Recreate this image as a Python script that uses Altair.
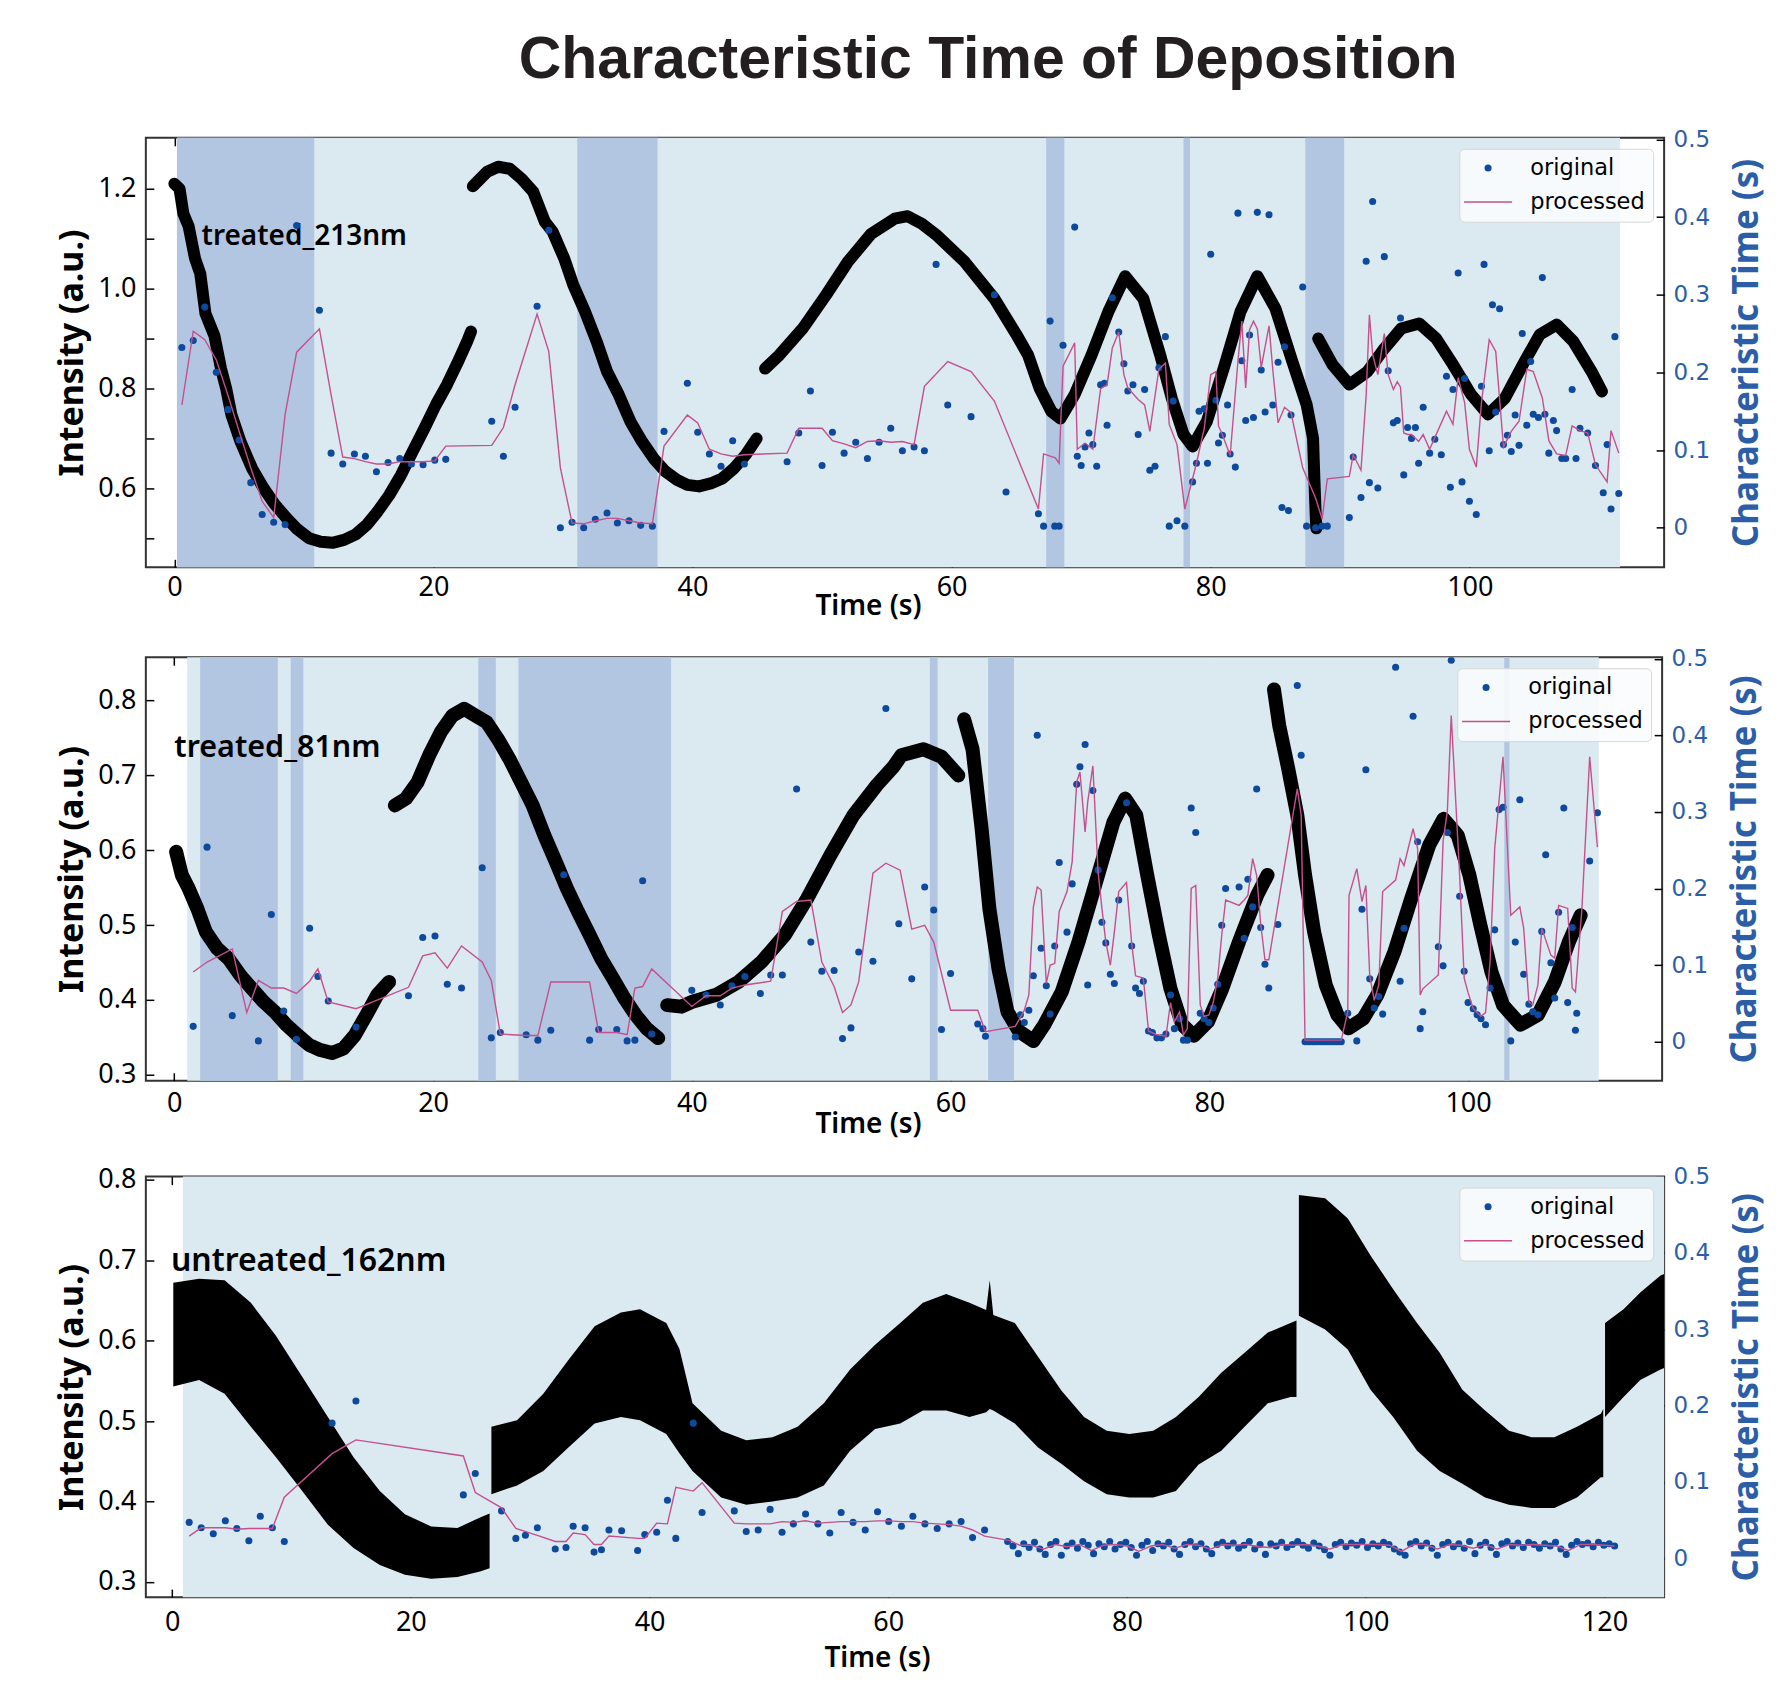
import altair as alt
import pandas as pd

TITLE = "Characteristic Time of Deposition"
SERIES = ["original", "processed"]
X_TICKS_12 = [0, 20, 40, 60, 80, 100]
X_TICKS_3 = [0, 20, 40, 60, 80, 100, 120]
R_TICKS = [0, 0.1, 0.2, 0.3, 0.4, 0.5]

# ---------------- Panel 1: treated_213nm ----------------
P1_NAME = "treated_213nm"
P1_LABEL_AT = (2.1, 1.104)
P1_SPAN = (0.2, 111.6)
P1_BANDS = [(0.2, 10.8), (31.1, 37.3), (67.3, 68.7), (77.9, 78.4), (87.3, 90.3)]
P1_BREAKS = [23.0, 45.3, 88.25]
P1_INTENSITY = [
    (0.0, 1.21), (0.4, 1.20), (0.7, 1.15), (1.1, 1.125), (1.6, 1.06), (2.0, 1.03), (2.4, 0.95),
    (3.1, 0.905), (3.6, 0.84), (4.0, 0.80), (4.4, 0.748), (5.1, 0.694), (6.0, 0.64), (6.9, 0.60),
    (7.75, 0.568), (8.65, 0.541), (9.5, 0.518), (10.4, 0.50), (11.3, 0.493), (12.2, 0.491),
    (13.1, 0.497), (14.0, 0.508), (14.85, 0.527), (15.7, 0.554), (16.6, 0.587), (17.5, 0.627),
    (18.4, 0.674), (19.3, 0.72), (20.2, 0.768), (21.05, 0.808), (21.9, 0.854), (22.6, 0.894),
    (22.9, 0.914),
    (23.04, 1.205), (24.15, 1.234), (25.0, 1.244), (25.9, 1.24), (26.8, 1.22), (27.7, 1.194),
    (28.6, 1.134), (29.2, 1.114), (30.1, 1.06), (30.8, 1.007), (31.7, 0.954), (32.6, 0.894),
    (33.4, 0.834), (34.3, 0.788), (35.2, 0.734), (36.1, 0.694), (37.0, 0.66), (37.9, 0.634),
    (38.8, 0.617), (39.6, 0.607), (40.5, 0.604), (41.4, 0.61), (42.3, 0.62), (43.2, 0.64),
    (44.1, 0.667), (44.95, 0.70),
    (45.6, 0.84), (46.7, 0.867), (48.5, 0.92), (50.3, 0.987), (52.0, 1.054), (53.8, 1.11),
    (55.6, 1.14), (56.6, 1.145), (57.7, 1.13), (58.8, 1.108), (61.0, 1.054), (63.3, 0.98),
    (65.0, 0.908), (65.9, 0.867), (66.8, 0.80), (67.7, 0.754), (68.4, 0.74), (69.5, 0.788),
    (70.8, 0.867), (72.1, 0.954), (73.4, 1.025), (74.8, 0.98), (76.1, 0.867), (77.0, 0.78),
    (77.9, 0.708), (78.6, 0.684), (79.7, 0.734), (81.0, 0.84), (82.3, 0.954), (83.6, 1.025),
    (85.0, 0.96), (86.3, 0.854), (87.4, 0.768), (87.9, 0.70), (88.0, 0.62), (88.1, 0.55),
    (88.15, 0.52),
    (88.3, 0.90), (89.4, 0.848), (90.7, 0.808), (92.1, 0.834), (93.4, 0.88), (94.7, 0.92),
    (96.1, 0.93), (97.4, 0.90), (98.7, 0.848), (100.1, 0.788), (101.4, 0.748), (102.7, 0.78),
    (104.1, 0.848), (105.4, 0.908), (106.7, 0.928), (108.0, 0.894), (109.4, 0.834), (110.2, 0.794),
]
P1_ORIGINAL = [
    (0.58, 0.232), (1.46, 0.241), (2.35, 0.284), (3.24, 0.200), (4.13, 0.152), (5.0, 0.113),
    (5.9, 0.058), (6.78, 0.017), (7.67, 0.007), (8.55, 0.004), (9.44, 0.389), (11.2, 0.280),
    (12.1, 0.096), (13.0, 0.082), (13.9, 0.095), (14.75, 0.092), (15.6, 0.072), (16.5, 0.084),
    (17.4, 0.089), (18.3, 0.082), (19.2, 0.081), (20.1, 0.087), (20.95, 0.088), (24.5, 0.137),
    (25.4, 0.092), (26.3, 0.155), (28.0, 0.285), (28.9, 0.383), (29.8, 0.0), (30.7, 0.007),
    (31.6, 0.0), (32.5, 0.011), (33.4, 0.019), (34.2, 0.006), (35.1, 0.009), (36.0, 0.003),
    (36.9, 0.002), (37.8, 0.124), (39.6, 0.186), (40.4, 0.123), (41.3, 0.095), (42.2, 0.079),
    (43.1, 0.112), (44.0, 0.082), (47.3, 0.085), (48.2, 0.122), (49.1, 0.176), (50.0, 0.080),
    (50.8, 0.123), (51.7, 0.096), (52.6, 0.110), (53.5, 0.089), (54.4, 0.110), (55.3, 0.128),
    (56.2, 0.099), (57.1, 0.104), (57.9, 0.099), (58.8, 0.339), (59.7, 0.158), (61.5, 0.143),
    (63.3, 0.300), (64.2, 0.046), (66.7, 0.018), (67.1, 0.002), (67.6, 0.266), (67.96, 0.002),
    (68.3, 0.002), (68.6, 0.235), (69.5, 0.387), (69.7, 0.092), (70.0, 0.080), (70.3, 0.104),
    (70.6, 0.122), (70.9, 0.107), (71.2, 0.079), (71.5, 0.184), (71.8, 0.186), (72.0, 0.132),
    (72.4, 0.296), (72.9, 0.252), (73.3, 0.211), (73.6, 0.176), (74.0, 0.184), (74.4, 0.120),
    (74.9, 0.178), (75.3, 0.074), (75.7, 0.079), (76.0, 0.206), (76.5, 0.246), (76.8, 0.002),
    (77.1, 0.163), (77.4, 0.009), (78.0, 0.002), (78.6, 0.059), (78.9, 0.083), (79.1, 0.150),
    (79.5, 0.153), (79.75, 0.083), (80.0, 0.352), (80.4, 0.164), (80.6, 0.109), (80.9, 0.119),
    (81.3, 0.158), (81.5, 0.095), (81.9, 0.078), (82.1, 0.405), (82.4, 0.215), (82.7, 0.138),
    (83.0, 0.248), (83.3, 0.142), (83.6, 0.406), (83.9, 0.203), (84.2, 0.149), (84.5, 0.403),
    (84.8, 0.158), (85.2, 0.213), (85.5, 0.026), (85.7, 0.233), (86.0, 0.022), (86.2, 0.145),
    (87.1, 0.310), (87.4, 0.002), (88.1, 0.0), (88.6, 0.002), (89.0, 0.002), (90.7, 0.013),
    (91.0, 0.091), (91.6, 0.039), (92.0, 0.343), (92.25, 0.058), (92.5, 0.420), (92.9, 0.051),
    (93.4, 0.349), (93.7, 0.202), (94.1, 0.135), (94.4, 0.138), (94.65, 0.270), (94.9, 0.068),
    (95.2, 0.129), (95.5, 0.115), (95.8, 0.129), (96.05, 0.083), (96.4, 0.155), (96.9, 0.096),
    (97.3, 0.114), (97.8, 0.094), (98.2, 0.195), (98.5, 0.052), (98.7, 0.178), (99.1, 0.328),
    (99.4, 0.059), (99.6, 0.192), (99.97, 0.034), (100.5, 0.017), (100.9, 0.182), (101.1, 0.339),
    (101.5, 0.099), (101.75, 0.287), (102.0, 0.149), (102.3, 0.282), (102.6, 0.107), (102.9, 0.119),
    (103.2, 0.098), (103.5, 0.145), (103.8, 0.106), (104.05, 0.250), (104.4, 0.132), (104.7, 0.214),
    (104.9, 0.146), (105.3, 0.142), (105.6, 0.322), (105.8, 0.146), (106.1, 0.096), (106.45, 0.138),
    (106.7, 0.125), (107.1, 0.089), (107.4, 0.089), (107.9, 0.178), (108.2, 0.089), (108.5, 0.128),
    (109.1, 0.122), (109.7, 0.080), (110.3, 0.045), (110.6, 0.107), (110.9, 0.024), (111.2, 0.246),
    (111.5, 0.044),
]
P1_PROCESSED = [
    (0.58, 0.158), (1.46, 0.253), (2.35, 0.242), (3.24, 0.216), (4.13, 0.171), (5.0, 0.124),
    (5.9, 0.077), (6.78, 0.034), (7.67, 0.013), (8.55, 0.146), (9.44, 0.226), (11.2, 0.256),
    (12.1, 0.171), (13.0, 0.091), (13.9, 0.089), (14.75, 0.085), (15.6, 0.082), (16.5, 0.082),
    (17.4, 0.085), (18.3, 0.085), (19.2, 0.085), (20.1, 0.086), (20.95, 0.105), (24.5, 0.106),
    (25.4, 0.129), (26.3, 0.184), (28.0, 0.275), (28.9, 0.227), (29.8, 0.077), (30.7, 0.006),
    (31.6, 0.005), (32.5, 0.009), (33.4, 0.012), (34.2, 0.012), (35.1, 0.009), (36.0, 0.006),
    (36.9, 0.005), (37.8, 0.105), (39.6, 0.145), (40.4, 0.135), (41.3, 0.101), (42.2, 0.095),
    (43.1, 0.092), (44.0, 0.094), (47.3, 0.096), (48.2, 0.128), (50.0, 0.128), (50.8, 0.112),
    (51.7, 0.108), (52.6, 0.103), (53.5, 0.111), (54.4, 0.112), (55.3, 0.110), (56.2, 0.111),
    (57.1, 0.107), (57.9, 0.182), (59.7, 0.214), (61.5, 0.201), (63.3, 0.163), (66.7, 0.024),
    (67.1, 0.095), (68.0, 0.090), (68.3, 0.083), (68.6, 0.208), (69.5, 0.238), (69.7, 0.101),
    (70.3, 0.109), (70.9, 0.101), (71.5, 0.179), (72.0, 0.184), (72.4, 0.231), (72.9, 0.252),
    (73.3, 0.197), (73.6, 0.180), (74.4, 0.165), (74.9, 0.158), (75.3, 0.124), (76.0, 0.204),
    (76.5, 0.212), (76.8, 0.133), (77.4, 0.107), (78.0, 0.024), (78.9, 0.083), (79.5, 0.128),
    (80.0, 0.197), (80.4, 0.201), (80.6, 0.131), (80.9, 0.120), (81.5, 0.093), (82.1, 0.214),
    (82.4, 0.266), (82.7, 0.180), (83.0, 0.255), (83.3, 0.266), (83.6, 0.256), (83.9, 0.206),
    (84.5, 0.260), (84.8, 0.202), (85.2, 0.135), (85.7, 0.155), (86.2, 0.148), (87.1, 0.077),
    (88.1, 0.038), (88.6, 0.011), (89.0, 0.063), (90.7, 0.066), (91.0, 0.094), (91.6, 0.074),
    (92.0, 0.171), (92.25, 0.274), (92.5, 0.223), (92.9, 0.197), (93.4, 0.250), (93.7, 0.197),
    (94.1, 0.178), (94.4, 0.188), (94.65, 0.181), (94.9, 0.122), (95.2, 0.120), (95.5, 0.120),
    (96.05, 0.111), (96.4, 0.120), (96.9, 0.101), (97.3, 0.116), (98.2, 0.150), (98.7, 0.133),
    (99.1, 0.193), (99.6, 0.161), (99.97, 0.101), (100.5, 0.078), (100.9, 0.161), (101.5, 0.242),
    (102.0, 0.227), (102.6, 0.104), (103.2, 0.124), (103.8, 0.137), (104.4, 0.204), (104.9, 0.201),
    (105.6, 0.167), (106.1, 0.112), (106.7, 0.095), (107.4, 0.093), (107.9, 0.131), (108.5, 0.125),
    (109.1, 0.122), (109.7, 0.081), (110.6, 0.059), (110.9, 0.125), (111.5, 0.096),
]

# ---------------- Panel 2: treated_81nm ----------------
P2_NAME = "treated_81nm"
P2_LABEL_AT = (0.0, 0.736)
P2_SPAN = (1.0, 110.1)
P2_BANDS = [(2.0, 8.0), (9.0, 9.97), (23.5, 24.85), (26.6, 38.4), (58.4, 59.0), (62.9, 64.9),
            (102.8, 103.2)]
P2_BREAKS = [16.9, 37.8, 60.9, 84.8]
P2_INTENSITY = [
    (0.14, 0.598), (0.58, 0.567), (1.11, 0.549), (1.78, 0.522), (2.44, 0.491), (3.3, 0.469),
    (4.2, 0.455), (5.1, 0.433), (6.0, 0.415), (6.87, 0.398), (7.76, 0.384), (8.64, 0.367),
    (9.53, 0.353), (10.4, 0.34), (11.3, 0.333), (12.2, 0.329), (13.07, 0.335), (13.96, 0.353),
    (14.85, 0.38), (15.7, 0.407), (16.6, 0.424),
    (17.05, 0.66), (17.9, 0.669), (18.8, 0.691), (19.7, 0.727), (20.6, 0.758), (21.5, 0.78),
    (22.4, 0.789), (23.26, 0.78), (24.15, 0.771), (25.0, 0.749), (25.9, 0.722), (26.8, 0.691),
    (27.7, 0.66), (28.6, 0.62), (29.5, 0.584), (30.35, 0.549), (31.2, 0.518), (32.1, 0.487),
    (33.0, 0.455), (33.9, 0.429), (34.8, 0.402), (35.65, 0.38), (36.5, 0.362), (37.4, 0.349),
    (38.1, 0.393), (39.2, 0.391), (40.1, 0.398), (41.9, 0.407), (43.6, 0.424), (45.4, 0.451),
    (47.2, 0.487), (48.9, 0.535), (50.7, 0.593), (52.5, 0.647), (54.3, 0.687), (55.6, 0.712),
    (56.2, 0.727), (57.9, 0.735), (59.3, 0.725), (60.6, 0.70),
    (61.05, 0.775), (61.7, 0.735), (62.4, 0.629), (63.0, 0.522), (63.7, 0.442), (64.4, 0.384),
    (65.3, 0.358), (66.4, 0.345), (67.25, 0.367), (68.6, 0.411), (69.9, 0.478), (71.25, 0.558),
    (72.6, 0.638), (73.5, 0.669), (74.35, 0.647), (75.2, 0.567), (76.1, 0.487), (77.0, 0.415),
    (77.9, 0.367), (78.8, 0.352), (79.9, 0.371), (81.0, 0.415), (82.3, 0.478), (83.7, 0.54),
    (84.5, 0.567),
    (85.0, 0.815), (85.4, 0.767), (86.1, 0.709), (86.8, 0.647), (87.4, 0.567), (88.1, 0.491),
    (89.0, 0.42), (89.9, 0.38), (90.75, 0.362), (91.9, 0.375), (93.0, 0.407), (94.3, 0.464),
    (95.6, 0.535), (97.0, 0.607), (98.1, 0.642), (99.2, 0.62), (100.1, 0.567), (100.95, 0.50),
    (101.8, 0.438), (102.7, 0.393), (104.05, 0.367), (105.4, 0.38), (106.7, 0.424), (107.8, 0.478),
    (108.7, 0.513),
]
P2_ORIGINAL = [
    (1.46, 0.020), (2.53, 0.254), (4.48, 0.034), (6.5, 0.001), (7.5, 0.166), (8.46, 0.040),
    (9.44, 0.003), (10.46, 0.148), (11.1, 0.085), (11.9, 0.053), (14.05, 0.019), (18.1, 0.060),
    (19.2, 0.136), (20.15, 0.138), (21.1, 0.075), (22.2, 0.070), (23.8, 0.227), (24.5, 0.005),
    (25.2, 0.012), (27.2, 0.009), (28.1, 0.002), (29.1, 0.015), (30.1, 0.218), (32.1, 0.002),
    (32.8, 0.016), (34.2, 0.016), (35.0, 0.001), (35.6, 0.002), (36.2, 0.210), (36.9, 0.010),
    (40.0, 0.067), (41.1, 0.061), (42.2, 0.048), (43.1, 0.073), (44.1, 0.085), (45.3, 0.063),
    (46.1, 0.087), (47.0, 0.087), (48.1, 0.330), (49.2, 0.130), (50.05, 0.092), (51.0, 0.093),
    (51.65, 0.004), (52.3, 0.018), (52.9, 0.117), (54.0, 0.105), (55.0, 0.435), (56.0, 0.154),
    (57.0, 0.082), (58.0, 0.202), (58.7, 0.172), (59.3, 0.016), (60.0, 0.089), (62.1, 0.023),
    (62.5, 0.017), (62.7, 0.007), (65.0, 0.006), (65.4, 0.035), (65.7, 0.025), (66.05, 0.041),
    (66.4, 0.086), (66.7, 0.400), (67.0, 0.122), (67.4, 0.073), (67.7, 0.036), (68.05, 0.125),
    (68.4, 0.234), (69.0, 0.143), (69.4, 0.206), (69.75, 0.336), (70.0, 0.359), (70.4, 0.388),
    (70.6, 0.074), (71.0, 0.328), (71.4, 0.224), (71.7, 0.156), (72.0, 0.129), (72.35, 0.088),
    (72.66, 0.076), (73.0, 0.185), (73.6, 0.312), (74.0, 0.125), (74.3, 0.070), (74.6, 0.063),
    (74.9, 0.079), (75.3, 0.014), (75.6, 0.012), (75.95, 0.005), (76.3, 0.005), (76.65, 0.010),
    (77.0, 0.061), (77.3, 0.017), (77.7, 0.030), (78.0, 0.002), (78.3, 0.002), (78.6, 0.305),
    (78.95, 0.273), (79.3, 0.037), (79.6, 0.030), (79.97, 0.025), (80.3, 0.044), (80.65, 0.075),
    (80.96, 0.152), (81.26, 0.200), (82.3, 0.202), (82.7, 0.135), (82.98, 0.212), (83.35, 0.176),
    (83.66, 0.330), (83.97, 0.149), (84.3, 0.101), (84.6, 0.070), (85.3, 0.153), (86.8, 0.465),
    (87.1, 0.374), (87.4, 0.0), (87.6, 0.0), (87.8, 0.0), (88.0, 0.0), (88.2, 0.0), (88.4, 0.0),
    (88.6, 0.0), (88.8, 0.0), (89.0, 0.0), (89.2, 0.0), (89.4, 0.0), (89.6, 0.0), (89.8, 0.0),
    (90.0, 0.0), (90.2, 0.0), (90.7, 0.037), (91.4, 0.001), (91.8, 0.173), (92.1, 0.355),
    (92.4, 0.082), (92.75, 0.044), (93.1, 0.059), (93.4, 0.036), (94.4, 0.489), (94.75, 0.079),
    (95.05, 0.148), (95.75, 0.425), (96.1, 0.261), (96.3, 0.017), (96.5, 0.039), (97.7, 0.124),
    (98.07, 0.099), (98.4, 0.273), (98.7, 0.498), (99.35, 0.190), (99.7, 0.092), (100.0, 0.051),
    (100.4, 0.043), (100.7, 0.035), (101.0, 0.030), (101.35, 0.022), (101.7, 0.070), (102.06, 0.146),
    (102.4, 0.303), (102.7, 0.306), (103.3, 0.001), (103.65, 0.130), (104.0, 0.316), (104.3, 0.088),
    (104.7, 0.049), (105.0, 0.039), (105.4, 0.035), (105.7, 0.144), (106.0, 0.244), (106.4, 0.103),
    (106.7, 0.057), (107.0, 0.169), (107.4, 0.305), (107.7, 0.051), (108.05, 0.149), (108.3, 0.015),
    (108.4, 0.037), (109.4, 0.236), (110.0, 0.299),
]
P2_PROCESSED = [
    (1.46, 0.091), (2.53, 0.104), (4.48, 0.121), (5.6, 0.038), (6.5, 0.080), (7.5, 0.070),
    (8.46, 0.070), (9.44, 0.063), (10.46, 0.079), (11.1, 0.095), (11.9, 0.052), (14.05, 0.043),
    (18.1, 0.071), (19.2, 0.112), (20.15, 0.116), (21.1, 0.096), (22.2, 0.125), (23.8, 0.104),
    (24.5, 0.080), (25.2, 0.010), (27.2, 0.008), (28.1, 0.008), (29.1, 0.078), (30.1, 0.078),
    (32.1, 0.078), (32.8, 0.012), (34.2, 0.012), (35.0, 0.009), (35.6, 0.070), (36.2, 0.072),
    (36.9, 0.095), (40.0, 0.046), (41.1, 0.060), (42.2, 0.060), (43.1, 0.070), (44.1, 0.074),
    (45.3, 0.077), (46.1, 0.079), (47.0, 0.170), (48.1, 0.183), (49.2, 0.185), (50.05, 0.104),
    (51.0, 0.072), (51.65, 0.038), (52.3, 0.048), (52.9, 0.078), (54.0, 0.220), (55.0, 0.233),
    (56.1, 0.224), (57.0, 0.147), (58.0, 0.152), (58.7, 0.130), (60.0, 0.041), (62.1, 0.041),
    (62.7, 0.013), (65.0, 0.020), (65.7, 0.041), (66.05, 0.061), (66.4, 0.176), (66.7, 0.202),
    (67.0, 0.198), (67.4, 0.076), (67.7, 0.100), (68.05, 0.102), (68.4, 0.170), (69.0, 0.196),
    (69.4, 0.235), (69.75, 0.339), (70.0, 0.352), (70.4, 0.274), (70.6, 0.313), (71.0, 0.360),
    (71.4, 0.222), (71.7, 0.174), (72.0, 0.130), (72.35, 0.100), (72.66, 0.143), (73.0, 0.196),
    (73.6, 0.208), (74.0, 0.128), (74.3, 0.086), (74.9, 0.083), (75.3, 0.014), (75.95, 0.009),
    (76.65, 0.007), (77.0, 0.051), (77.3, 0.026), (77.7, 0.039), (78.0, 0.009), (78.3, 0.017),
    (78.6, 0.200), (78.95, 0.204), (79.3, 0.048), (79.6, 0.033), (79.97, 0.035), (80.3, 0.051),
    (80.65, 0.083), (80.96, 0.139), (81.26, 0.185), (82.3, 0.178), (82.7, 0.185), (82.98, 0.191),
    (83.35, 0.239), (83.66, 0.217), (83.97, 0.154), (84.3, 0.107), (84.6, 0.107), (86.8, 0.330),
    (87.1, 0.296), (87.4, 0.002), (90.2, 0.002), (90.7, 0.039), (90.8, 0.191), (91.4, 0.226),
    (91.8, 0.183), (92.1, 0.204), (92.4, 0.086), (92.75, 0.054), (93.1, 0.074), (93.4, 0.196),
    (94.4, 0.211), (94.75, 0.239), (95.05, 0.230), (95.75, 0.278), (96.1, 0.252), (96.3, 0.061),
    (96.5, 0.069), (97.7, 0.087), (98.07, 0.262), (98.4, 0.301), (98.7, 0.426), (99.35, 0.217),
    (99.7, 0.083), (100.0, 0.064), (100.4, 0.043), (101.0, 0.033), (101.35, 0.038), (101.7, 0.104),
    (102.06, 0.252), (102.7, 0.372), (103.3, 0.165), (104.0, 0.176), (104.3, 0.148), (104.7, 0.052),
    (105.0, 0.048), (105.4, 0.074), (105.7, 0.148), (106.4, 0.113), (106.7, 0.109), (107.0, 0.178),
    (107.7, 0.174), (108.05, 0.070), (108.3, 0.065), (108.8, 0.174), (109.4, 0.372), (110.0, 0.254),
]

# ---------------- Panel 3: untreated_162nm ----------------
P3_NAME = "untreated_162nm"
P3_LABEL_AT = (-0.1, 0.699)
P3_SPAN = (0.9, 125.0)
P3_BANDS = []
P3_BREAKS = [26.7, 94.35, 120.0]
# (time, upper edge, lower edge) of the dense black intensity band
P3_INTENSITY = [
    (0.1, 0.672, 0.543), (2.26, 0.677, 0.551), (4.4, 0.675, 0.534), (6.6, 0.647, 0.493),
    (8.7, 0.606, 0.455), (10.9, 0.555, 0.413), (13.05, 0.505, 0.371), (15.2, 0.455, 0.342),
    (17.4, 0.413, 0.321), (19.5, 0.384, 0.309), (21.7, 0.369, 0.304), (23.9, 0.367, 0.306),
    (25.8, 0.38, 0.313), (26.6, 0.385, 0.317),
    (26.75, 0.493, 0.409), (28.9, 0.501, 0.42), (31.1, 0.534, 0.438), (33.2, 0.576, 0.467),
    (35.4, 0.618, 0.497), (37.6, 0.635, 0.505), (39.2, 0.639, 0.501), (41.4, 0.622, 0.484),
    (42.5, 0.59, 0.46), (43.6, 0.522, 0.438), (46.0, 0.488, 0.405), (48.1, 0.476, 0.396),
    (50.3, 0.48, 0.40), (52.4, 0.493, 0.405), (54.6, 0.522, 0.42), (56.8, 0.564, 0.463),
    (58.9, 0.595, 0.49), (61.0, 0.622, 0.497), (62.9, 0.647, 0.513), (64.85, 0.658, 0.513),
    (66.8, 0.647, 0.505), (68.2, 0.638, 0.511), (68.5, 0.675, 0.515), (68.8, 0.632, 0.513),
    (70.6, 0.622, 0.497), (72.55, 0.58, 0.467),
    (74.5, 0.538, 0.447), (76.4, 0.505, 0.425), (78.3, 0.488, 0.409), (80.2, 0.484, 0.405),
    (82.2, 0.488, 0.405), (84.1, 0.505, 0.413), (86.0, 0.53, 0.446), (87.9, 0.56, 0.463),
    (89.85, 0.585, 0.493), (91.8, 0.61, 0.522), (93.7, 0.622, 0.53), (94.2, 0.625, 0.53),
    (94.4, 0.781, 0.631), (96.6, 0.777, 0.614), (98.5, 0.752, 0.589), (100.4, 0.706, 0.539),
    (102.3, 0.664, 0.505), (104.3, 0.622, 0.463), (106.2, 0.585, 0.438), (108.1, 0.539, 0.422),
    (110.0, 0.513, 0.405), (112.0, 0.488, 0.396), (113.9, 0.48, 0.392), (115.8, 0.48, 0.392),
    (117.7, 0.493, 0.405), (119.7, 0.509, 0.43), (119.9, 0.515, 0.43),
    (120.05, 0.622, 0.505), (121.6, 0.639, 0.53), (123.0, 0.66, 0.551), (124.7, 0.681, 0.564),
    (125.0, 0.683, 0.566),
]
P3_ORIGINAL = [
    (1.43, 0.047), (2.44, 0.040), (3.45, 0.032), (4.46, 0.049), (5.42, 0.039), (6.43, 0.023),
    (7.39, 0.055), (8.4, 0.040), (9.4, 0.022), (13.4, 0.177), (15.4, 0.206), (24.4, 0.083),
    (25.4, 0.111), (27.6, 0.062), (28.8, 0.026), (29.6, 0.030), (30.6, 0.040), (32.1, 0.012),
    (33.0, 0.014), (33.6, 0.042), (34.6, 0.040), (35.35, 0.008), (35.97, 0.011), (36.6, 0.037),
    (37.66, 0.036), (39.0, 0.010), (39.6, 0.031), (40.6, 0.034), (41.5, 0.076), (42.2, 0.026),
    (43.66, 0.177), (44.4, 0.060), (47.1, 0.062), (48.1, 0.035), (49.1, 0.037), (50.1, 0.064),
    (51.1, 0.034), (52.05, 0.045), (53.07, 0.058), (54.1, 0.045), (55.1, 0.033), (56.05, 0.060),
    (57.05, 0.047), (58.07, 0.037), (59.1, 0.061), (60.04, 0.048), (61.1, 0.042), (62.06, 0.055),
    (63.07, 0.045), (64.1, 0.039), (65.1, 0.045), (66.1, 0.048), (67.06, 0.027), (68.07, 0.037),
    (70.0, 0.022), (70.45, 0.016), (70.9, 0.006), (71.35, 0.019), (71.8, 0.014), (72.25, 0.021),
    (72.7, 0.012), (73.15, 0.005), (73.6, 0.018), (74.05, 0.022), (74.5, 0.004), (74.95, 0.016),
    (75.4, 0.020), (75.85, 0.013), (76.3, 0.022), (76.75, 0.017), (77.2, 0.006), (77.65, 0.019),
    (78.1, 0.015), (78.55, 0.022), (79.0, 0.012), (79.45, 0.018), (79.9, 0.021), (80.35, 0.014),
    (80.8, 0.004), (81.25, 0.017), (81.7, 0.022), (82.15, 0.010), (82.6, 0.019), (83.05, 0.016),
    (83.5, 0.021), (83.95, 0.012), (84.4, 0.005), (84.85, 0.018), (85.3, 0.022), (85.75, 0.015),
    (86.2, 0.019), (86.65, 0.012), (87.1, 0.006), (87.55, 0.018), (88.0, 0.021), (88.45, 0.016),
    (88.9, 0.020), (89.35, 0.013), (89.8, 0.017), (90.25, 0.022), (90.7, 0.012), (91.15, 0.018),
    (91.6, 0.005), (92.05, 0.019), (92.5, 0.016), (92.95, 0.021), (93.4, 0.014), (93.85, 0.018),
    (94.3, 0.022), (94.75, 0.017), (95.2, 0.013), (95.65, 0.020), (96.1, 0.016), (96.55, 0.011),
    (97.0, 0.004), (97.45, 0.018), (97.9, 0.021), (98.35, 0.015), (98.8, 0.020), (99.25, 0.017),
    (99.7, 0.022), (100.15, 0.014), (100.6, 0.019), (101.05, 0.016), (101.5, 0.021), (101.95, 0.018),
    (102.4, 0.012), (102.85, 0.008), (103.3, 0.004), (103.75, 0.019), (104.2, 0.022), (104.65, 0.016),
    (105.1, 0.020), (105.55, 0.013), (106.0, 0.004), (106.45, 0.018), (106.9, 0.021), (107.35, 0.015),
    (107.8, 0.019), (108.25, 0.013), (108.7, 0.022), (109.15, 0.006), (109.6, 0.017), (110.05, 0.021),
    (110.5, 0.014), (110.95, 0.005), (111.4, 0.019), (111.85, 0.022), (112.3, 0.016), (112.75, 0.020),
    (113.2, 0.014), (113.65, 0.021), (114.1, 0.018), (114.55, 0.013), (115.0, 0.019), (115.45, 0.016),
    (115.9, 0.021), (116.35, 0.012), (116.8, 0.005), (117.25, 0.017), (117.7, 0.022), (118.15, 0.018),
    (118.6, 0.020), (119.05, 0.015), (119.5, 0.021), (119.95, 0.017), (120.4, 0.019), (120.85, 0.016),
]
P3_PROCESSED = [
    (1.43, 0.029), (2.44, 0.040), (3.45, 0.040), (4.46, 0.040), (5.42, 0.038), (6.43, 0.039),
    (7.39, 0.039), (8.4, 0.039), (9.4, 0.080), (13.4, 0.137), (15.4, 0.155), (24.4, 0.134),
    (25.4, 0.086), (27.6, 0.066), (28.8, 0.039), (30.6, 0.030), (32.1, 0.022), (33.0, 0.022),
    (33.6, 0.033), (34.6, 0.031), (35.35, 0.018), (35.97, 0.018), (36.6, 0.029), (39.0, 0.026),
    (39.6, 0.026), (40.6, 0.046), (41.5, 0.045), (42.2, 0.093), (43.66, 0.088), (44.4, 0.099),
    (47.1, 0.046), (48.1, 0.045), (49.1, 0.045), (50.1, 0.045), (51.1, 0.048), (52.05, 0.047),
    (53.07, 0.049), (54.1, 0.046), (55.1, 0.047), (56.05, 0.048), (57.05, 0.048), (58.07, 0.048),
    (59.1, 0.049), (60.04, 0.049), (61.1, 0.048), (62.06, 0.048), (63.07, 0.046), (64.1, 0.045),
    (65.1, 0.044), (66.1, 0.042), (67.06, 0.037), (68.07, 0.029), (70.2, 0.023), (71.0, 0.017),
    (72.0, 0.017), (73.0, 0.012), (74.0, 0.018), (75.0, 0.015), (76.0, 0.018), (77.0, 0.010),
    (78.0, 0.017), (79.0, 0.018), (80.0, 0.016), (81.0, 0.009), (82.0, 0.016), (83.0, 0.018),
    (84.0, 0.013), (85.0, 0.018), (86.0, 0.017), (87.0, 0.012), (88.0, 0.018), (89.0, 0.017),
    (90.0, 0.018), (91.0, 0.015), (92.0, 0.014), (93.0, 0.018), (94.0, 0.017), (95.0, 0.018),
    (96.0, 0.016), (97.0, 0.012), (98.0, 0.018), (99.0, 0.018), (100.0, 0.018), (101.0, 0.018),
    (102.0, 0.017), (103.0, 0.009), (104.0, 0.018), (105.0, 0.018), (106.0, 0.012), (107.0, 0.018),
    (108.0, 0.017), (109.0, 0.013), (110.0, 0.018), (111.0, 0.012), (112.0, 0.018), (113.0, 0.017),
    (114.0, 0.018), (115.0, 0.017), (116.0, 0.016), (117.0, 0.010), (118.0, 0.018), (119.0, 0.018),
    (120.0, 0.017), (120.85, 0.016),
]

# ---------------- styling ----------------
FONT = "Noto Sans"
AX_BLUE = "#2c5ea8"
DOT_BLUE = "#0d4a9e"
PINK = "#c4508c"
LIGHT = "#dbe9f1"
DARK = "#b2c6e1"
LEGEND_LINE = "M-6.8,-0.21L6.8,-0.21L6.8,0.21L-6.8,0.21Z"
IN = 8  # inward tick length


def seg_of(t, breaks):
    return sum(1 for b in breaks if t >= b)


def panel(name, label_at, label_size, span, bands, breaks, intensity, original, processed,
          xdom, xticks, ydom, yticks, ylabel_expr, rdom, width, height, title_x, title_y,
          xlab_pad, line_w):
    xs = alt.Scale(domain=xdom, nice=False, zero=False)
    ys = alt.Scale(domain=ydom, nice=False, zero=False)
    rs = alt.Scale(domain=rdom, nice=False, zero=False)

    top_axis = alt.Axis(orient="top", values=xticks, labels=False, title=None, offset=-IN,
                        tickSize=IN, tickWidth=1.5, tickColor="black", domain=False, grid=False)
    bottom_axis = alt.Axis(orient="bottom", values=xticks, format="d", labelFont=FONT,
                           labelFontSize=27, labelColor="black", labelPadding=xlab_pad,
                           labelFlush=False, offset=-IN, tickSize=IN, tickWidth=1.5,
                           tickColor="black", domain=False, grid=False, title="Time (s)",
                           titleFont=FONT, titleFontSize=28, titleFontWeight=600,
                           titleColor="black", titleX=title_x, titleY=title_y,
                           titleBaseline="top")
    left_axis = alt.Axis(orient="left", values=yticks, labelExpr=ylabel_expr, labelFont=FONT,
                         labelFontSize=27, labelColor="black", labelPadding=10, labelFlush=False,
                         offset=-IN, tickSize=IN, tickWidth=1.5, tickColor="black",
                         domain=False, grid=False, title="Intensity (a.u.)", titleFont=FONT,
                         titleFontSize=34, titleFontWeight="bold", titleColor="black",
                         titlePadding=8)
    right_axis = alt.Axis(orient="right", values=R_TICKS, format="~g", labelFont="DejaVu Sans",
                          labelFontSize=23, labelColor=AX_BLUE, labelPadding=9, labelFlush=False,
                          offset=-IN, tickSize=IN, tickWidth=1.5, tickColor="black",
                          domain=False, grid=False, title="Characteristic Time (s)",
                          titleFont=FONT, titleFontSize=35, titleFontWeight="bold",
                          titleColor=AX_BLUE, titlePadding=20, titleAngle=270,
                          titleBaseline="top")

    layers = []
    layers.append(alt.Chart(pd.DataFrame({"s": [span[0]], "e": [span[1]]})).mark_rect(
        color=LIGHT).encode(x=alt.X("s:Q", scale=xs, axis=top_axis), x2="e:Q"))
    if bands:
        bdf = pd.DataFrame(bands, columns=["s", "e"])
        layers.append(alt.Chart(bdf).mark_rect(color=DARK).encode(
            x=alt.X("s:Q", scale=xs, axis=None), x2="e:Q"))

    if len(intensity[0]) == 2:
        idf = pd.DataFrame(intensity, columns=["t", "v"])
        idf["seg"] = [seg_of(t, breaks) for t in idf["t"]]
        layers.append(alt.Chart(idf).mark_line(color="black", strokeWidth=line_w,
                                               strokeCap="round", strokeJoin="round",
                                               clip=True).encode(
            x=alt.X("t:Q", scale=xs, axis=bottom_axis),
            y=alt.Y("v:Q", scale=ys, axis=left_axis),
            detail="seg:N"))
    else:
        idf = pd.DataFrame(intensity, columns=["t", "hi", "lo"])
        idf["seg"] = [seg_of(t, breaks) for t in idf["t"]]
        layers.append(alt.Chart(idf).mark_area(color="black", clip=True).encode(
            x=alt.X("t:Q", scale=xs, axis=bottom_axis),
            y=alt.Y("hi:Q", scale=ys, axis=left_axis),
            y2="lo:Q",
            detail="seg:N"))

    layers.append(alt.Chart(pd.DataFrame({"t": [label_at[0]], "v": [label_at[1]],
                                          "txt": [name]})).mark_text(
        align="left", baseline="middle", font=FONT, fontSize=label_size, fontWeight=600,
        color="black"
    ).encode(x=alt.X("t:Q", scale=xs, axis=None), y=alt.Y("v:Q", scale=ys, axis=None),
             text="txt:N"))

    odf = pd.DataFrame(original, columns=["t", "tau"])
    odf["series"] = "original"
    pdf = pd.DataFrame(processed, columns=["t", "tau"])
    legend = alt.Legend(title=None, orient="top-right", offset=11, padding=8,
                        fillColor="rgba(250,252,253,0.88)", strokeColor="#d6d6d6", cornerRadius=5,
                        labelFont="DejaVu Sans", labelFontSize=22.5, labelColor="black",
                        symbolSize=50, symbolOffset=9.5, labelOffset=31, rowPadding=11,
                        symbolStrokeWidth=0)
    layers.append(alt.Chart(odf).mark_point(filled=True, size=50, opacity=1, clip=True).encode(
        x=alt.X("t:Q", scale=xs, axis=None),
        y=alt.Y("tau:Q", scale=rs, axis=right_axis),
        color=alt.Color("series:N", scale=alt.Scale(domain=SERIES, range=[DOT_BLUE, PINK]),
                        legend=legend),
        shape=alt.Shape("series:N", scale=alt.Scale(domain=SERIES, range=["circle", LEGEND_LINE]),
                        legend=legend)))
    layers.append(alt.Chart(pdf).mark_line(color=PINK, strokeWidth=1.4, clip=True).encode(
        x=alt.X("t:Q", scale=xs, axis=None),
        y=alt.Y("tau:Q", scale=rs, axis=None)))

    return alt.layer(*layers).resolve_scale(y="independent").properties(
        width=width, height=height)


EVEN_LABELS = "round(datum.value * 10) % 2 == 0 ? format(datum.value, '.1f') : ''"
ALL_LABELS = "format(datum.value, '.1f')"

p1 = panel(P1_NAME, P1_LABEL_AT, 28, P1_SPAN, P1_BANDS, P1_BREAKS, P1_INTENSITY, P1_ORIGINAL,
           P1_PROCESSED, [-2.2, 115.0], X_TICKS_12, [0.442, 1.302],
           [0.5, 0.6, 0.7, 0.8, 0.9, 1.0, 1.1, 1.2], EVEN_LABELS, [-0.051, 0.502],
           1520, 430, 723, 33, 7, 12)
p2 = panel(P2_NAME, P2_LABEL_AT, 30.5, P2_SPAN, P2_BANDS, P2_BREAKS, P2_INTENSITY, P2_ORIGINAL,
           P2_PROCESSED, [-2.2, 115.0], X_TICKS_12, [0.292, 0.858],
           [0.3, 0.4, 0.5, 0.6, 0.7, 0.8], ALL_LABELS, [-0.051, 0.502],
           1518, 424, 723, 38, 10, 14)
p3 = panel(P3_NAME, P3_LABEL_AT, 32, P3_SPAN, P3_BANDS, P3_BREAKS, P3_INTENSITY, P3_ORIGINAL,
           P3_PROCESSED, [-2.2, 125.0], X_TICKS_3, [0.281, 0.804],
           [0.3, 0.4, 0.5, 0.6, 0.7, 0.8], ALL_LABELS, [-0.051, 0.5],
           1520, 421, 732, 55, 12, 12)

chart = alt.vconcat(p1, p2, p3, spacing=25).resolve_scale(
    x="independent", y="independent", color="independent", shape="independent"
).resolve_legend(color="independent", shape="independent").properties(
    title=alt.TitleParams(TITLE, font="Liberation Sans", fontSize=59, fontWeight="bold",
                          color="#231f20", anchor="middle", dx=78, offset=37),
    padding={"left": 46, "top": 22, "right": 7, "bottom": 5},
).configure_view(stroke="#333333", strokeWidth=2).configure_axis(grid=False)

chart.save("out.html", embed_options={"renderer": "svg", "actions": False})
